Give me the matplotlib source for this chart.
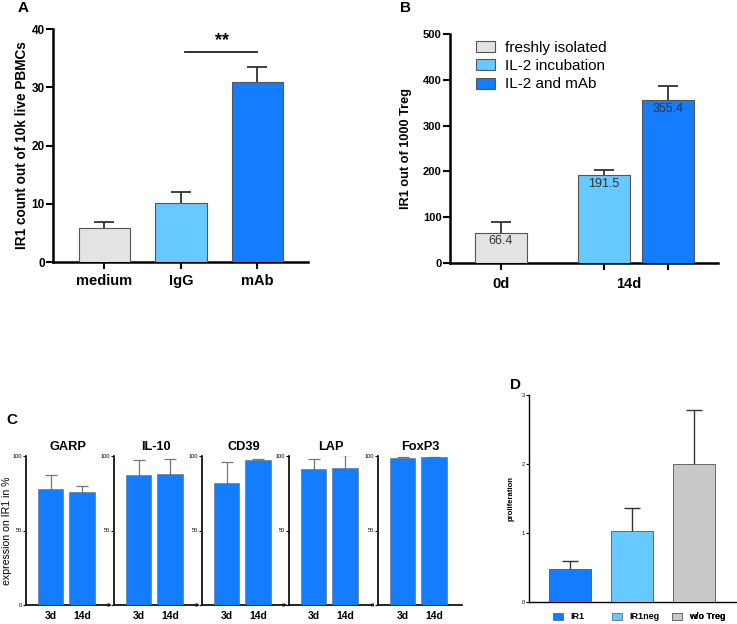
import matplotlib
matplotlib.use("Agg")
import matplotlib.pyplot as plt
from matplotlib.patches import Patch

plt.rcParams['font.family'] = ['Liberation Sans', 'DejaVu Sans']

W, H = 737, 624

GREY = '#e3e3e3'
LIGHT = '#66c9ff'
BLUE = '#137cff'
GREY_D = '#c8c8c8'

# panel A
a_cats = ['medium', 'IgG', 'mAb']
a_vals = [5.9, 10.1, 30.9]
a_err = [0.9, 2.0, 2.6]

# panel B
b_groups = ['0d', '14d']
b_names = ['freshly isolated', 'IL-2 incubation', 'IL-2 and mAb']
b_vals = [66.4, 191.5, 355.4]
b_err = [24, 11, 32]

# panel C
c_markers = ['GARP', 'IL-10', 'CD39', 'LAP', 'FoxP3']
c_days = ['3d', '14d']
c_vals = [[78, 76], [87, 88], [82, 97], [91, 92], [98.5, 99]]
c_err = [[9, 4], [10, 10], [14, 1], [7, 9], [0.5, 0.5]]

# panel D
d_cats = ['IR1', 'IR1neg', 'w/o Treg']
d_vals = [0.48, 1.03, 2.0]
d_err = [0.11, 0.33, 0.78]


def ax_px(fig, left, top, right, bottom):
    return fig.add_axes([left / W, 1 - bottom / H, (right - left) / W, (bottom - top) / H])


def style(ax, lw):
    ax.spines['top'].set_visible(False)
    ax.spines['right'].set_visible(False)
    ax.spines['left'].set_linewidth(lw)
    ax.spines['bottom'].set_linewidth(lw)


fig = plt.figure(figsize=(W / 100, H / 100), dpi=100)

# ---- A
ax = ax_px(fig, 53, 29, 308, 262)
style(ax, 1.8)
xa = [0, 1, 2]
ax.bar(xa, a_vals, width=0.67, color=[GREY, LIGHT, BLUE], edgecolor='#555555', linewidth=0.8, zorder=3)
ax.errorbar(xa, a_vals, yerr=a_err, fmt='none', ecolor='#333333', elinewidth=1.3,
            capsize=7, capthick=1.3, zorder=2)
ax.set_xlim(-0.67, 2.66)
ax.set_ylim(0, 40)
ax.set_yticks([0, 10, 20, 30, 40])
ax.set_xticks(xa)
ax.set_xticklabels(a_cats, fontsize=10.5, fontweight='bold')
ax.tick_params(axis='y', labelsize=8.5, width=1.5, length=5, pad=1)
ax.tick_params(axis='x', width=1.5, length=5)
for t in ax.get_yticklabels():
    t.set_fontweight('bold')
ax.set_ylabel('IR1 count out of 10k live PBMCs', fontsize=9.8, fontweight='bold', labelpad=1.5)
ax.plot([1.05, 2.0], [36.05, 36.05], color='#222222', lw=1.3, clip_on=False)
ax.text(1.54, 36.5, '**', ha='center', va='bottom', fontsize=13, fontweight='bold')
fig.text(18 / W, 1 - 8 / H, 'A', fontsize=11, fontweight='bold', va='center')

# ---- B
ax = ax_px(fig, 450, 34, 718, 263)
style(ax, 1.8)
xb = [0, 1, 1.62]
ax.bar(xb, b_vals, width=0.5, color=[GREY, LIGHT, BLUE], edgecolor='#555555', linewidth=0.8, zorder=3)
ax.errorbar(xb, b_vals, yerr=b_err, fmt='none', ecolor='#333333',
            elinewidth=1.3, capsize=7, capthick=1.3, zorder=2)
for x, v in zip(xb, b_vals):
    ax.text(x, v - 6, f'{v:.1f}', ha='center', va='top', fontsize=9, color='#333333', zorder=4)
ax.set_xlim(-0.495, 2.107)
ax.set_ylim(0, 500)
ax.set_yticks([0, 100, 200, 300, 400, 500])
ax.set_xticks(xb)
ax.set_xticklabels(['', '', ''])
ax.tick_params(axis='y', labelsize=8, width=1.5, length=5, pad=1)
ax.tick_params(axis='x', width=1.5, length=5)
for t in ax.get_yticklabels():
    t.set_fontweight('bold')
ax.text(0, -0.06, b_groups[0], transform=ax.get_xaxis_transform(), ha='center', va='top',
        fontsize=10.5, fontweight='bold')
ax.text(1.24, -0.06, b_groups[1], transform=ax.get_xaxis_transform(), ha='center', va='top',
        fontsize=10.5, fontweight='bold')
ax.set_ylabel('IR1 out of 1000 Treg', fontsize=9.2, fontweight='bold', labelpad=8)
handles = [Patch(facecolor=c, edgecolor='#555555', linewidth=0.8) for c in [GREY, LIGHT, BLUE]]
ax.legend(handles, b_names, loc='upper left', bbox_to_anchor=(0.098, 0.97), frameon=False,
          fontsize=11, handlelength=1.2, handleheight=0.75, labelspacing=0.28, handletextpad=0.7,
          borderpad=0, borderaxespad=0)
fig.text(400 / W, 1 - 8 / H, 'B', fontsize=11, fontweight='bold', va='center')

# ---- C
lefts = [26, 114, 202, 289, 378]
for i, (name, left) in enumerate(zip(c_markers, lefts)):
    ax = ax_px(fig, left, 456, left + 84, 605)
    style(ax, 1.2)
    xc = [0, 1]
    ax.bar(xc, c_vals[i], width=0.81, color=BLUE, edgecolor='#666666', linewidth=0.4, zorder=3)
    ax.errorbar(xc, c_vals[i], yerr=c_err[i], fmt='none', ecolor='#777777',
                elinewidth=0.9, capsize=4, capthick=0.9, zorder=2)
    ax.set_xlim(-0.78, 1.89)
    ax.set_ylim(0, 100)
    ax.set_yticks([0, 50, 100])
    ax.set_xticks(xc)
    ax.set_xticklabels(c_days, fontsize=7.5, fontweight='bold')
    ax.tick_params(axis='y', labelsize=4, width=0.8, length=2, pad=1)
    ax.tick_params(axis='x', length=0, pad=4)
    ax.set_title(name, fontsize=9.2, fontweight='bold', pad=4)
    if i == 0:
        ax.set_ylabel('expression on IR1 in %', fontsize=7.6, labelpad=0)
fig.text(6 / W, 1 - 420 / H, 'C', fontsize=11, fontweight='bold', va='center')

# ---- D
ax = ax_px(fig, 529, 395, 737, 602)
style(ax, 1.0)
xd = [0, 1, 2]
ax.bar(xd, d_vals, width=0.68, color=[BLUE, LIGHT, GREY_D], edgecolor='#555555', linewidth=0.6, zorder=3)
ax.errorbar(xd, d_vals, yerr=d_err, fmt='none', ecolor='#333333',
            elinewidth=1.0, capsize=5.5, capthick=1.0, zorder=2)
ax.set_xlim(-0.66, 2.69)
ax.set_ylim(0, 3)
ax.set_yticks([0, 1, 2, 3])
ax.set_xticks([])
ax.tick_params(axis='y', labelsize=4, width=0.8, length=2, pad=1)
ax.set_ylabel('proliferation', fontsize=5.6, fontweight='bold', labelpad=5)
colors_d = [BLUE, LIGHT, GREY_D]
anchors_d = [0.115, 0.399, 0.6875]
for name, c, xa_ in zip(d_cats, colors_d, anchors_d):
    leg = ax.legend([Patch(facecolor=c, edgecolor='#555555', linewidth=0.5)], [name],
                    loc='center left', bbox_to_anchor=(xa_, -0.072), frameon=False,
                    handlelength=1.1, handleheight=0.9, handletextpad=0.8,
                    borderpad=0, borderaxespad=0, prop={'size': 6.5, 'weight': 'bold'})
    ax.add_artist(leg)
fig.text(510 / W, 1 - 385 / H, 'D', fontsize=11, fontweight='bold', va='center')

fig.savefig('out.png', dpi=100)
